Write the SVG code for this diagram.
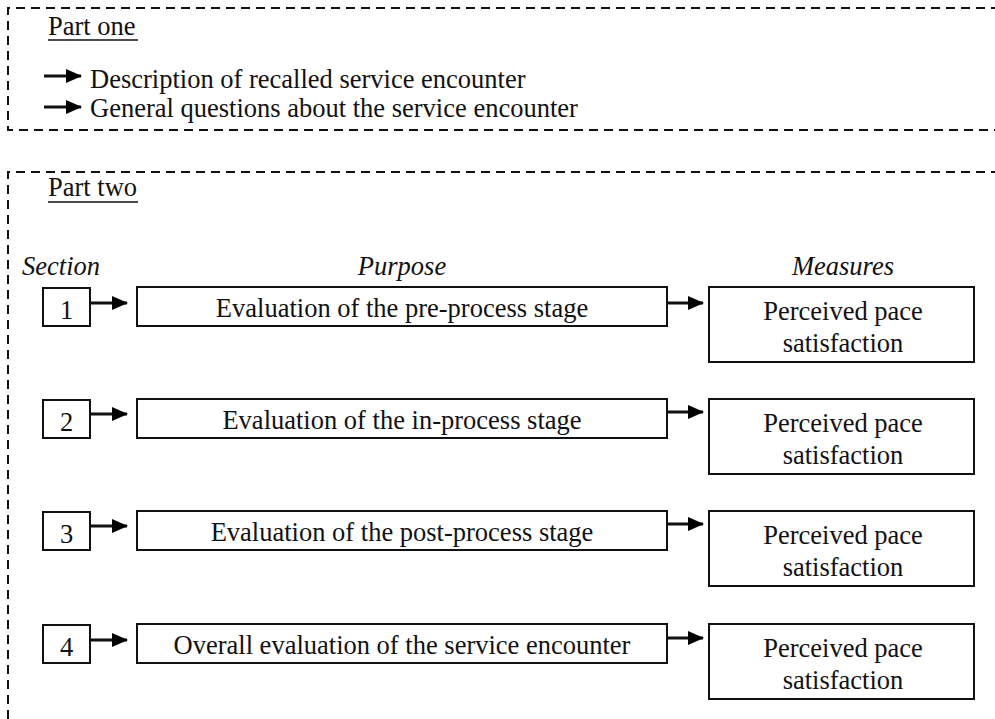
<svg xmlns="http://www.w3.org/2000/svg" width="995" height="719" viewBox="0 0 995 719">
<defs>
<marker id="ah" markerWidth="16" markerHeight="14" refX="15" refY="7" orient="auto" markerUnits="userSpaceOnUse">
<path d="M0,0 L16,7 L0,14 Z" fill="#000"/>
</marker>
<style>
text{font-family:"Liberation Serif","Times New Roman",serif;fill:#111;font-size:26.5px}
.it{font-style:italic}
.c{text-anchor:middle}
.box{fill:#fff;stroke:#111;stroke-width:2}
.dash{fill:none;stroke:#111;stroke-width:2;stroke-dasharray:9 6}
.con{stroke:#111;stroke-width:2.8;fill:none;marker-end:url(#ah)}
.ul{stroke:#111;stroke-width:1.5}
</style>
</defs>
<rect width="995" height="719" fill="#fff"/>
<g id="part-one">
<path class="dash" d="M1000,8 H8 V130 H1000"/>
<text x="48" y="35">Part one</text>
<line class="ul" x1="48" y1="40" x2="138" y2="40"/>
<text x="90" y="88">Description of recalled service encounter</text>
<text x="90" y="117">General questions about the service encounter</text>
</g>
<g id="part-two">
<path class="dash" d="M1000,172 H8 V730"/>
<text x="48" y="196">Part two</text>
<line class="ul" x1="48" y1="202" x2="138" y2="202"/>
<text class="it" x="22" y="275">Section</text>
<text class="it c" x="402" y="275">Purpose</text>
<text class="it c" x="843" y="275">Measures</text>
</g>
<g id="s1"><rect class="box" x="43" y="288" width="47" height="38"/><text class="c" x="66.5" y="319">1</text></g>
<g id="p1"><rect class="box" x="137" y="287" width="530" height="39"/><text class="c" x="402" y="317">Evaluation of the pre-process stage</text></g>
<g id="m1"><rect class="box" x="709" y="287" width="265" height="75"/><text class="c" x="843" y="320">Perceived pace</text><text class="c" x="843" y="352">satisfaction</text></g>
<g id="s2"><rect class="box" x="43" y="400" width="47" height="38"/><text class="c" x="66.5" y="431">2</text></g>
<g id="p2"><rect class="box" x="137" y="399" width="530" height="39"/><text class="c" x="402" y="429">Evaluation of the in-process stage</text></g>
<g id="m2"><rect class="box" x="709" y="399" width="265" height="75"/><text class="c" x="843" y="432">Perceived pace</text><text class="c" x="843" y="464">satisfaction</text></g>
<g id="s3"><rect class="box" x="43" y="512" width="47" height="38"/><text class="c" x="66.5" y="543">3</text></g>
<g id="p3"><rect class="box" x="137" y="511" width="530" height="39"/><text class="c" x="402" y="541">Evaluation of the post-process stage</text></g>
<g id="m3"><rect class="box" x="709" y="511" width="265" height="75"/><text class="c" x="843" y="544">Perceived pace</text><text class="c" x="843" y="576">satisfaction</text></g>
<g id="s4"><rect class="box" x="43" y="625" width="47" height="38"/><text class="c" x="66.5" y="656">4</text></g>
<g id="p4"><rect class="box" x="137" y="624" width="530" height="39"/><text class="c" x="402" y="654">Overall evaluation of the service encounter</text></g>
<g id="m4"><rect class="box" x="709" y="624" width="265" height="75"/><text class="c" x="843" y="657">Perceived pace</text><text class="c" x="843" y="689">satisfaction</text></g>
<g id="connectors">
<line class="con" x1="44" y1="76" x2="81" y2="76"/>
<line class="con" x1="44" y1="107" x2="81" y2="107"/>
<line class="con" x1="90" y1="303" x2="127" y2="303"/>
<line class="con" x1="90" y1="414" x2="127" y2="414"/>
<line class="con" x1="90" y1="526" x2="127" y2="526"/>
<line class="con" x1="90" y1="640" x2="127" y2="640"/>
<line class="con" x1="667" y1="303" x2="703" y2="303"/>
<line class="con" x1="667" y1="412" x2="703" y2="412"/>
<line class="con" x1="667" y1="524" x2="703" y2="524"/>
<line class="con" x1="667" y1="638" x2="703" y2="638"/>
</g>
</svg>
